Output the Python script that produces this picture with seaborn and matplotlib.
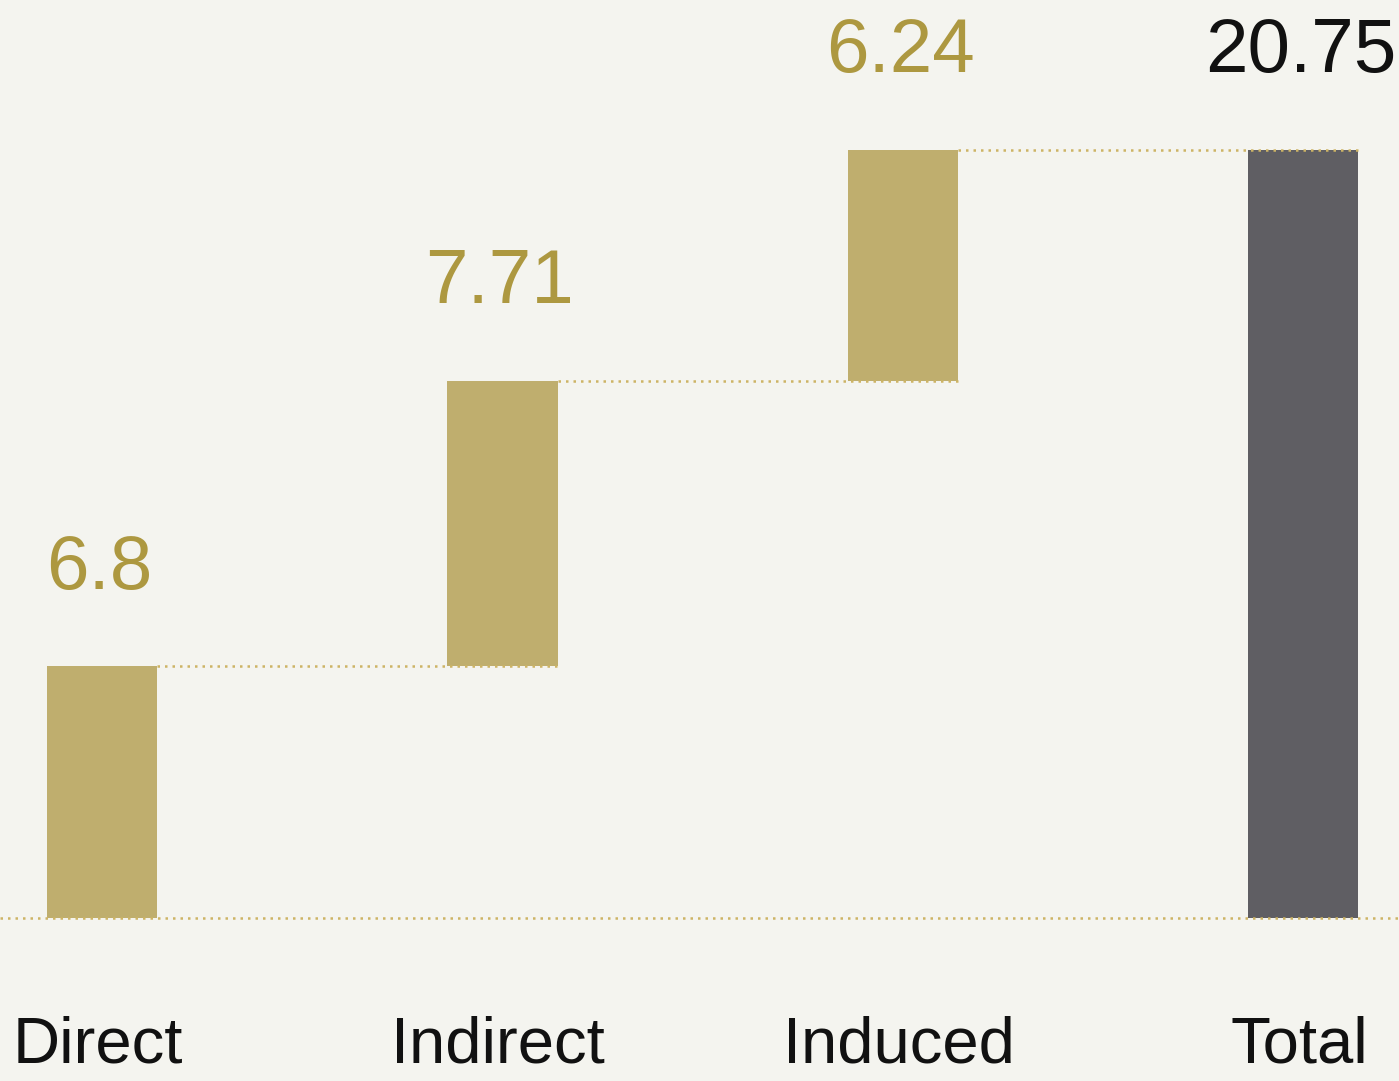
import numpy as np
import pandas as pd
import seaborn as sns
import matplotlib.pyplot as plt

# Waterfall data
categories = ["Direct", "Indirect", "Induced", "Total"]
values = [6.8, 7.71, 6.24, 20.75]
value_labels = ["6.8", "7.71", "6.24", "20.75"]
is_total = [False, False, False, True]

GOLD = "#BFAE6E"
GOLD_TEXT = "#AD9840"
DOTS = "#CDB465"
GREY = "#5F5E63"
BG = "#F4F4EF"

# start of each floating bar
starts = []
running = 0.0
for v, tot in zip(values, is_total):
    if tot:
        starts.append(0.0)
    else:
        starts.append(running)
        running += v
df = pd.DataFrame({"cat": categories, "value": values, "start": starts})
df["end"] = df["start"] + df["value"]

sns.set_theme(style="white")
plt.rcParams["font.family"] = ["Liberation Sans", "DejaVu Sans"]

fig = plt.figure(figsize=(13.99, 10.81), dpi=100, facecolor=BG)
ax = fig.add_axes([0, 0, 1, 1])
ax.set_facecolor(BG)

bar_w = 0.275
sns.barplot(data=df, x="cat", y="value", order=categories, bottom=df["start"].values,
            width=bar_w, color=GOLD, saturation=1, ax=ax, zorder=2)
for patch, tot in zip(ax.patches, is_total):
    patch.set_facecolor(GREY if tot else GOLD)
    patch.set_edgecolor("none")

# dotted baseline and connectors
dot_kw = dict(color=DOTS, linewidth=1.8, linestyle=(0, (1, 2)), zorder=3)
ax.axhline(0, **dot_kw)
for i in range(len(categories) - 1):
    y = df["end"].iloc[i]
    ax.plot([i + bar_w / 2, i + 1 + bar_w / 2], [y, y], **dot_kw)

# value labels
for i, (lab, tot) in enumerate(zip(value_labels, is_total)):
    ax.annotate(lab, (i, df["end"].iloc[i]), xytext=(-2, 56), textcoords="offset points",
                ha="center", va="baseline", fontsize=55,
                color="#111111" if tot else GOLD_TEXT)

# category labels
for i, c in enumerate(categories):
    ax.annotate(c, (i, 0), xytext=(-3, -104), textcoords="offset points",
                ha="center", va="baseline", fontsize=47, color="#111111")

ax.set_xlim(-0.255, 3.239)
ax.set_ylim(-4.404, 24.80)
ax.set_xticks([])
ax.set_yticks([])
ax.set_xlabel("")
ax.set_ylabel("")
sns.despine(ax=ax, left=True, bottom=True)

fig.savefig("out.png", dpi=100, facecolor=BG)
